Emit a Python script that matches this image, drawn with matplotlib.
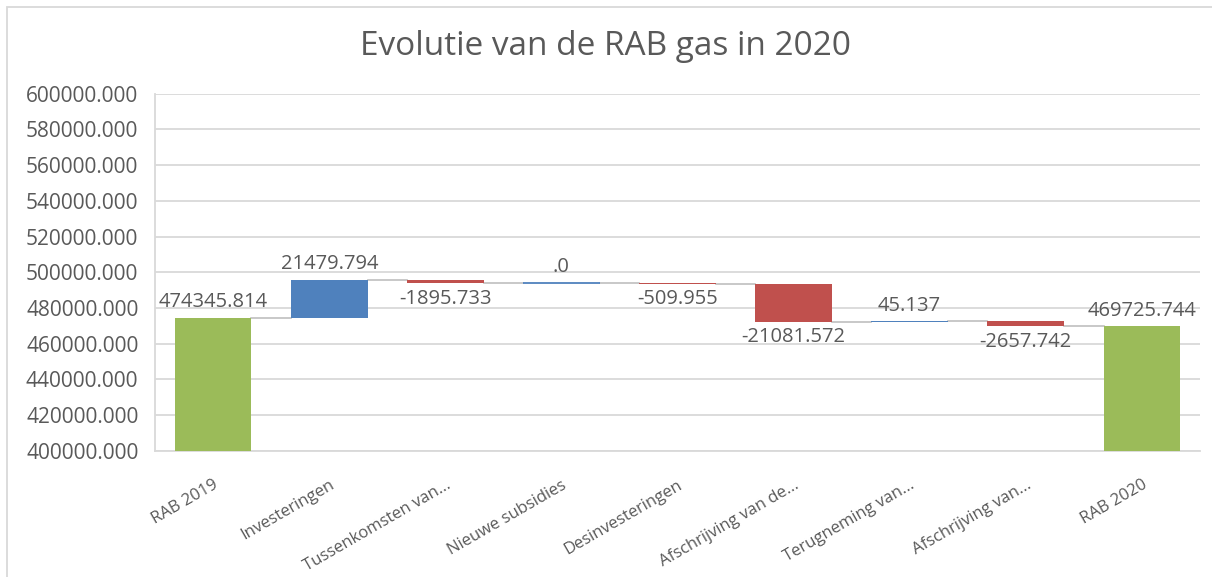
import matplotlib.pyplot as plt
from matplotlib.patches import Rectangle
import numpy as np

plt.rcParams['font.family'] = ['Open Sans', 'DejaVu Sans']

# Data
categories = ['RAB 2019', 'Investeringen', 'Tussenkomsten van...', 'Nieuwe subsidies',
              'Desinvesteringen', 'Afschrijving van de...', 'Terugneming van...',
              'Afschrijving van...', 'RAB 2020']
values = [474345.814, 21479.794, -1895.733, 0.0, -509.955, -21081.572, 45.137,
          -2657.742, 469725.744]
is_total = [True, False, False, False, False, False, False, False, True]
labels = ['474345.814', '21479.794', '-1895.733', '.0', '-509.955', '-21081.572',
          '45.137', '-2657.742', '469725.744']

GREEN = '#9BBB59'
BLUE = '#4F81BD'
RED = '#C0504D'
TEXT = '#595959'
GRID = '#D9D9D9'

fig = plt.figure(figsize=(12.12, 5.77), dpi=100)
ax = fig.add_axes([0.128, 0.219, 0.862, 0.6185])

# running totals
bottoms = []
tops = []
level = 0.0
for v, tot in zip(values, is_total):
    if tot:
        bottoms.append(0.0)
        tops.append(v)
        level = v
    else:
        bottoms.append(level)
        level = level + v
        tops.append(level)

x = np.arange(len(categories))
width = 0.66
for i, (v, tot) in enumerate(zip(values, is_total)):
    if tot:
        c = GREEN
    elif v >= 0:
        c = BLUE
    else:
        c = RED
    lo, hi = min(bottoms[i], tops[i]), max(bottoms[i], tops[i])
    lw = 1.3 if v == 0 else 0
    ax.bar(x[i], hi - lo, bottom=lo, width=width, color=c, edgecolor=c,
           linewidth=lw, zorder=3)

    # data labels
    if tot or v >= 0:
        ax.annotate(labels[i], (x[i], hi), xytext=(0, 4), textcoords='offset points',
                    ha='center', va='bottom', fontsize=14.5, color=TEXT, zorder=5)
    else:
        ax.annotate(labels[i], (x[i], lo), xytext=(0, -4), textcoords='offset points',
                    ha='center', va='top', fontsize=14.5, color=TEXT, zorder=5)

# connector lines
for i in range(len(categories) - 1):
    ax.plot([x[i] + width / 2, x[i + 1] - width / 2], [tops[i], tops[i]],
            color='#BFBFBF', lw=1.2, zorder=2)

ax.set_xlim(-0.5, len(categories) - 0.5)
ax.set_ylim(400000, 600000)
ax.set_yticks(np.arange(400000, 600001, 20000))
ax.yaxis.set_major_formatter(plt.FuncFormatter(lambda v, p: f'{v:.3f}'))
ax.grid(axis='y', color=GRID, lw=1.3, zorder=0)
ax.set_axisbelow(True)
for s in ['top', 'right']:
    ax.spines[s].set_visible(False)
ax.spines['left'].set_color(GRID)
ax.spines['bottom'].set_color(GRID)
ax.spines['left'].set_linewidth(1.3)
ax.spines['bottom'].set_linewidth(1.3)
ax.tick_params(axis='y', length=0, labelsize=15, labelcolor=TEXT, pad=12)
ax.tick_params(axis='x', length=0, pad=19)

ax.set_xticks(x)
ax.set_xticklabels(categories, rotation=30, ha='right', va='top',
                   rotation_mode='anchor', fontsize=12, color=TEXT)

fig.text(0.5, 0.92, 'Evolutie van de RAB gas in 2020', ha='center', va='center',
         fontsize=24, color=TEXT)

# chart frame
fig.patches.append(Rectangle((7 / 1212, -0.1), 1.2, 1 - 7 / 577 + 0.1,
                             transform=fig.transFigure, fill=False,
                             edgecolor=GRID, lw=1.3))

fig.savefig('out.png', dpi=100)
